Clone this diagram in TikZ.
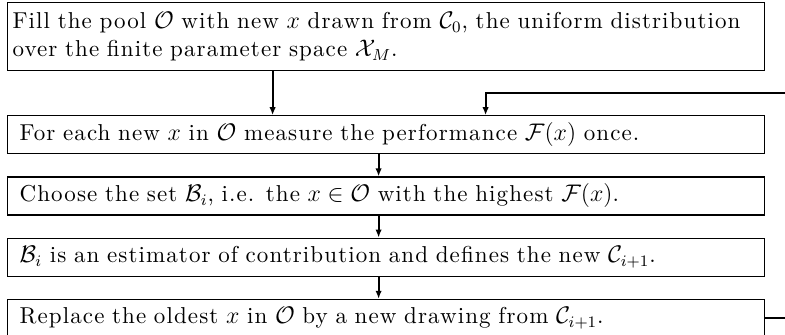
\documentclass[tikz,border=0pt]{standalone}
\usepackage{fontspec}
\usepackage{amsmath,amssymb}
\usetikzlibrary{arrows.meta,positioning}
\newfontfamily\spacedfont{lmroman10-regular.otf}[LetterSpace=4.8]

\begin{document}
\begin{tikzpicture}[
    node distance=11pt,
    box/.style={draw, line width=0.6pt, minimum width=378.5pt, minimum height=19pt, inner xsep=6pt, inner ysep=3pt,
      text width=366.5pt, align=left, font=\spacedfont\fontsize{11.5}{14}\selectfont},
    arrow/.style={-{Latex[length=4pt,width=3.2pt]}, line width=0.9pt}
  ]
    \clip (0,0) rectangle (392.5pt,-167.5pt);
    \node[box, minimum height=34pt, inner xsep=2.5pt, text width=373.5pt, anchor=north west] (fill) at (3.5pt,-1pt)
      {Fill the pool $\mathcal{O}$ with new $x$ drawn from $\mathcal{C}_0$, the uniform distribution\\
       over the finite parameter space $\mathcal{X}_M$.};
    \node[box, below=22pt of fill] (measure) {For each new $x$ in $\mathcal{O}$ measure the performance $\mathcal{F}(x)$ once.};
    \node[box, below=of measure] (choose) {Choose the set $\mathcal{B}_i$, i.e. the $x \in \mathcal{O}$ with the highest $\mathcal{F}(x)$.};
    \node[box, below=of choose] (estim) {$\mathcal{B}_i$ is an estimator of contribution and defines the new $\mathcal{C}_{i+1}$.};
    \node[box, below=of estim] (replace) {Replace the oldest $x$ in $\mathcal{O}$ by a new drawing from $\mathcal{C}_{i+1}$.};

    % feedback loop leaves the picture on the right
    \coordinate (out) at ([xshift=20pt]replace.east);
    \coordinate (back) at ([xshift=49.75pt,yshift=11pt]measure.north);

    \draw[arrow] ([xshift=-56.75pt]fill.south) -- ([xshift=-56.75pt]measure.north);
    \draw[arrow] ([xshift=-3.75pt]measure.south) -- ([xshift=-3.75pt]choose.north);
    \draw[arrow] ([xshift=-3.75pt]choose.south) -- ([xshift=-3.75pt]estim.north);
    \draw[arrow] ([xshift=-3.75pt]estim.south) -- ([xshift=-3.75pt]replace.north);
    \draw[arrow] (replace.east) -- (out) |- (back) -- ([xshift=49.75pt]measure.north);
\end{tikzpicture}
\end{document}
